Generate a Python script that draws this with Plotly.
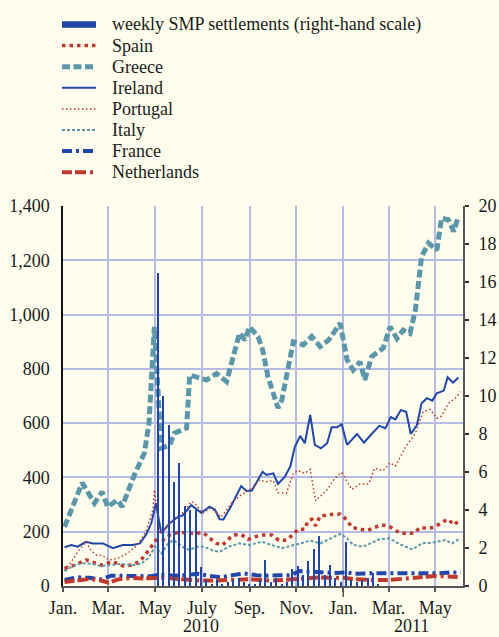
import plotly.graph_objects as go
import pandas as pd

# ---------------- data ----------------
greece_dates = ["2010-01-03","2010-01-26","2010-02-11","2010-02-21","2010-02-28","2010-03-13","2010-03-19",
    "2010-04-04","2010-04-17","2010-04-23","2010-04-30","2010-05-09","2010-05-20","2010-05-26","2010-06-11",
    "2010-06-15","2010-07-07","2010-07-20","2010-08-02","2010-08-19","2010-08-26","2010-09-01","2010-09-12",
    "2010-09-18","2010-09-25","2010-10-08","2010-10-13","2010-10-24","2010-10-28","2010-11-10","2010-11-21",
    "2010-12-02","2010-12-13","2010-12-28","2011-01-06","2011-01-14","2011-01-23","2011-01-29","2011-02-07",
    "2011-02-22","2011-03-03","2011-03-12","2011-03-20","2011-03-29","2011-04-05","2011-04-13","2011-04-22",
    "2011-05-03","2011-05-09","2011-05-18","2011-05-25","2011-05-31"]
greece = [218,380,305,347,292,317,292,409,490,600,955,508,519,563,582,777,759,783,753,932,906,955,919,870,771,
    656,685,845,900,888,919,882,906,968,833,796,826,759,845,876,955,912,943,931,1017,1213,1263,1238,1355,1349,1306,1361]

ireland_dates = ["2010-01-03","2010-01-12","2010-01-20","2010-01-31","2010-02-09","2010-02-22","2010-03-07",
    "2010-03-20","2010-04-02","2010-04-11","2010-04-19","2010-04-26","2010-05-02","2010-05-09","2010-05-20",
    "2010-05-31","2010-06-06","2010-06-17","2010-06-30","2010-07-11","2010-07-18","2010-07-24","2010-07-29",
    "2010-08-08","2010-08-21","2010-08-28","2010-09-04","2010-09-18","2010-09-23","2010-10-02","2010-10-08",
    "2010-10-17","2010-10-24","2010-10-30","2010-11-06","2010-11-12","2010-11-19","2010-11-25","2010-12-03",
    "2010-12-11","2010-12-17","2010-12-24","2010-12-30","2011-01-06","2011-01-19","2011-01-28","2011-02-07",
    "2011-02-17","2011-02-25","2011-03-04","2011-03-10","2011-03-17","2011-03-24","2011-03-30","2011-04-07",
    "2011-04-13","2011-04-20","2011-04-27","2011-05-03","2011-05-12","2011-05-17","2011-05-24","2011-05-31"]
ireland = [143,151,145,163,157,157,139,151,151,157,188,231,305,195,231,255,260,298,270,292,281,246,245,
    295,368,350,352,421,409,415,376,403,440,513,553,526,630,520,507,526,585,585,596,520,560,528,560,
    590,581,622,614,648,642,560,593,673,692,683,710,720,769,749,768]

portugal_dates = ["2010-01-03","2010-01-09","2010-01-22","2010-01-31","2010-02-06","2010-02-13","2010-02-22",
    "2010-03-02","2010-03-13","2010-03-26","2010-04-08","2010-04-19","2010-04-28","2010-04-30","2010-05-07",
    "2010-05-16","2010-05-29","2010-06-08","2010-06-17","2010-06-21","2010-07-02","2010-07-11","2010-07-18",
    "2010-07-26","2010-08-10","2010-08-21","2010-09-04","2010-09-14","2010-09-23","2010-10-02","2010-10-08",
    "2010-10-19","2010-10-28","2010-11-03","2010-11-12","2010-11-19","2010-11-26","2010-12-11","2010-12-21",
    "2010-12-30","2011-01-12","2011-01-23","2011-02-03","2011-02-11","2011-02-22","2011-03-03","2011-03-10",
    "2011-03-23","2011-04-05","2011-04-15","2011-04-24","2011-05-03","2011-05-09","2011-05-18","2011-05-29",
    "2011-06-02"]
portugal = [59,77,133,163,133,114,112,96,102,120,151,200,280,354,194,219,255,274,311,307,268,286,276,253,
    311,335,360,390,384,388,344,342,415,425,415,430,314,354,397,418,356,376,376,434,425,454,442,511,563,
    642,651,618,626,673,697,716]

spain_dates = ["2010-01-03","2010-01-16","2010-01-31","2010-02-11","2010-02-20","2010-03-07","2010-03-20",
    "2010-03-31","2010-04-11","2010-04-23","2010-05-02","2010-05-11","2010-05-20","2010-05-29","2010-06-04",
    "2010-06-13","2010-06-25","2010-07-03","2010-07-11","2010-07-20","2010-07-28","2010-08-04","2010-08-12",
    "2010-08-21","2010-08-30","2010-09-10","2010-09-19","2010-09-30","2010-10-09","2010-10-19","2010-10-28",
    "2010-11-03","2010-11-12","2010-11-16","2010-11-21","2010-11-26","2010-12-02","2010-12-11","2010-12-19",
    "2010-12-28","2011-01-06","2011-01-12","2011-01-19","2011-02-01","2011-02-11","2011-02-20","2011-03-01",
    "2011-03-07","2011-03-16","2011-03-25","2011-04-03","2011-04-11","2011-04-20","2011-04-29","2011-05-09",
    "2011-05-17","2011-05-26","2011-05-31"]
spain = [65,77,96,84,77,90,74,77,90,133,169,169,188,196,198,194,194,196,176,157,151,172,188,190,172,183,
    188,188,169,169,190,209,209,239,246,222,258,262,264,265,243,216,212,204,216,225,221,212,194,194,194,
    216,212,216,231,246,225,241]

italy_dates = ["2010-01-03","2010-01-16","2010-01-27","2010-02-09","2010-02-19","2010-03-05","2010-03-18",
    "2010-03-31","2010-04-12","2010-04-22","2010-05-01","2010-05-09","2010-05-19","2010-05-25","2010-06-05",
    "2010-06-14","2010-06-25","2010-07-03","2010-07-16","2010-07-24","2010-08-05","2010-08-19","2010-09-01",
    "2010-09-17","2010-09-30","2010-10-13","2010-10-24","2010-11-06","2010-11-19","2010-12-02","2010-12-15",
    "2010-12-28","2011-01-06","2011-01-14","2011-01-27","2011-02-09","2011-02-17","2011-03-02","2011-03-15",
    "2011-04-01","2011-04-14","2011-04-27","2011-05-14","2011-05-23","2011-05-31"]
italy = [55,77,84,81,74,77,81,77,81,102,145,120,160,169,145,133,145,145,130,126,145,157,151,163,151,139,
    147,157,167,157,176,192,176,151,145,163,172,176,155,135,157,160,169,157,172]

france_dates = ["2010-01-03","2010-01-20","2010-02-05","2010-02-18","2010-03-05","2010-03-25","2010-04-10",
    "2010-04-25","2010-05-08","2010-05-25","2010-06-10","2010-06-25","2010-07-10","2010-07-25","2010-08-10",
    "2010-08-25","2010-09-10","2010-09-25","2010-10-10","2010-10-25","2010-11-05","2010-11-20","2010-12-05",
    "2010-12-20","2011-01-05","2011-01-20","2011-02-05","2011-02-20","2011-03-05","2011-03-20","2011-04-05",
    "2011-04-20","2011-05-05","2011-05-20","2011-06-03"]
france = [22,32,30,24,38,37,35,36,42,38,40,45,38,32,40,46,40,38,40,40,55,52,48,48,50,45,47,47,47,48,45,
    48,47,50,50]

netherlands_dates = ["2010-01-03","2010-01-20","2010-02-05","2010-02-20","2010-03-01","2010-03-15","2010-04-01",
    "2010-04-15","2010-05-01","2010-05-15","2010-06-01","2010-06-15","2010-07-01","2010-07-15","2010-08-01",
    "2010-08-15","2010-09-01","2010-09-15","2010-10-01","2010-10-15","2010-11-01","2010-11-15","2010-12-01",
    "2010-12-15","2011-01-01","2011-01-15","2011-02-01","2011-02-15","2011-03-01","2011-03-15","2011-04-01",
    "2011-04-15","2011-05-01","2011-05-15","2011-06-03"]
netherlands = [15,22,26,20,12,25,30,28,30,30,25,22,20,20,22,25,25,22,20,22,25,30,32,30,30,25,22,22,22,25,
    30,35,37,35,33]

# weekly SMP settlements, EUR bn (right-hand scale), weeks from 5 May 2010
smp_start = "2010-05-05"
smp = [16.5,10.0,8.5,5.5,6.5,4.2,4.0,4.0,1.0,0.3,0.1,0.3,0.1,0.2,0.3,0.4,0.2,0.1,0.1,0.3,1.35,0.2,0.4,
    0.1,0.2,0.9,1.05,0.6,1.3,1.95,2.65,0.6,1.1,0.4,0.2,2.3,0.3,0.2,0.3,0.4,0.7,0.1]
smp_dates = pd.date_range(smp_start, periods=len(smp), freq="7D")

tick_vals = ["2010-01-01","2010-03-01","2010-05-01","2010-07-01","2010-09-01","2010-11-01",
             "2011-01-01","2011-03-01","2011-05-01"]
tick_text = ["Jan.","Mar.","May","July","Sep.","Nov.","Jan.","Mar.","May"]
year_labels = [("2010-06-30", "2010"), ("2011-03-31", "2011")]

# ---------------- style ----------------
BLUE = "#1f46a8"
RED = "#c0392f"
TEAL = "#5b97a9"
BG = "#fffeee"
GRID = "#b6bbe6"
FONT = "Liberation Serif"
FS = 18
TXT = "#1a1a1a"

# page geometry (body margin removed below, so the figure fills the window)
W, H = 499, 637
ML, MR, MT, MB = 63, 36, 206, 51
PW, PH = W - ML - MR, H - MT - MB

def px_x(p):
    return (p - ML) / PW

def px_y(p):
    return (H - MB - p) / PH

series = [
    ("weekly SMP settlements (right-hand scale)", BLUE, 6.5, "solid"),
    ("Spain", RED, 3.5, "3.5px,4px"),
    ("Greece", TEAL, 5, "8px,3.5px"),
    ("Ireland", BLUE, 2, "solid"),
    ("Portugal", RED, 1.5, "1.5px,2.5px"),
    ("Italy", TEAL, 2, "3px,2px"),
    ("France", BLUE, 4, "10px,4px,3px,4px"),
    ("Netherlands", RED, 4, "10px,3px,11px,4px,3px,4px"),
]
style = {name: (c, w, d) for name, c, w, d in series}

fig = go.Figure()

fig.add_trace(go.Bar(x=smp_dates, y=smp, yaxis="y2", marker=dict(color=BLUE, line=dict(width=0)),
                     width=1.9 * 86400000, name=series[0][0]))

def add_line(name, xs, ys):
    c, w, d = style[name]
    fig.add_trace(go.Scatter(x=xs, y=ys, mode="lines", name=name, line=dict(color=c, width=w, dash=d)))

add_line("Spain", spain_dates, spain)
add_line("Greece", greece_dates, greece)
add_line("Ireland", ireland_dates, ireland)
add_line("Portugal", portugal_dates, portugal)
add_line("Italy", italy_dates, italy)
add_line("France", france_dates, france)
add_line("Netherlands", netherlands_dates, netherlands)

annotations = [dict(x=d, y=px_y(626), xref="x", yref="paper", text=t, showarrow=False,
                    font=dict(family=FONT, size=FS, color=TXT), yanchor="middle")
               for d, t in year_labels]
shapes = [dict(type="line", xref="x", yref="paper", x0="2011-01-01", x1="2011-01-01",
               y0=0, y1=px_y(H - MB + 11), line=dict(color="#555", width=1.5))]

# legend drawn at the reference's positions
LEG_Y0, LEG_DY = 24.5, 21.1
for i, (name, c, w, d) in enumerate(series):
    yy = px_y(LEG_Y0 + i * LEG_DY)
    shapes.append(dict(type="line", xref="paper", yref="paper", x0=px_x(62), x1=px_x(96), y0=yy, y1=yy,
                       line=dict(color=c, width=w, dash=d)))
    annotations.append(dict(x=px_x(110), y=yy, xref="paper", yref="paper", text=name, showarrow=False,
                            xanchor="left", yanchor="middle", font=dict(family=FONT, size=FS, color=TXT)))

fig.update_layout(
    width=W, height=H,
    margin=dict(l=ML, r=MR, t=MT, b=MB, autoexpand=False),
    paper_bgcolor=BG, plot_bgcolor=BG,
    font=dict(family=FONT, size=FS, color=TXT),
    showlegend=False,
    bargap=0,
    xaxis=dict(type="date", range=["2010-01-01", "2011-06-06"], tickvals=tick_vals, ticktext=tick_text,
               showgrid=True, gridcolor=GRID, gridwidth=1.5, ticks="outside", ticklen=4,
               tickcolor="#555", tickwidth=1.5, showline=True, linecolor="#555", linewidth=2,
               zeroline=False, automargin=False, tickfont=dict(family=FONT, size=FS)),
    yaxis=dict(range=[0, 1400], dtick=200, tickformat=",d", showgrid=True, gridcolor=GRID, gridwidth=1.5,
               showline=True, linecolor="#111", linewidth=1.5, zeroline=False, ticks="",
               automargin=False, ticklabelstandoff=8, tickfont=dict(family=FONT, size=FS)),
    yaxis2=dict(range=[0, 20], dtick=2, overlaying="y", side="right", showgrid=False, showline=True,
                linecolor="#555", linewidth=2, ticks="outside", ticklen=4, tickcolor="#333",
                tickwidth=1.5, zeroline=False, automargin=False, ticklabelstandoff=6,
                tickfont=dict(family=FONT, size=FS)),
    annotations=annotations,
    shapes=shapes,
)

fig.write_html("out.html",
               config={"displayModeBar": False},
               post_script="document.body.style.margin='0';document.body.style.overflow='hidden';")
